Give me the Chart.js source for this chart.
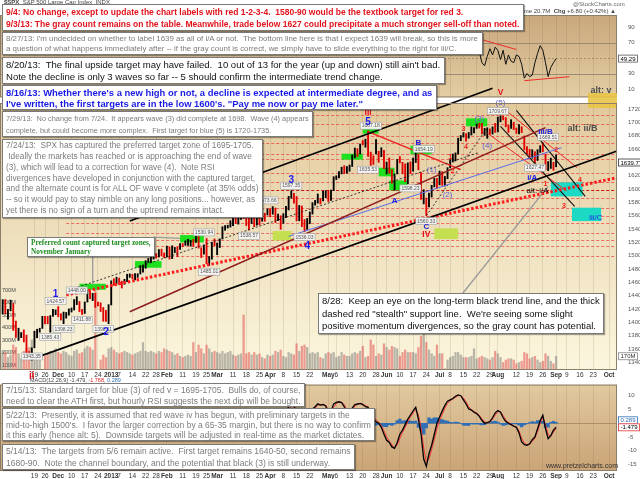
<!DOCTYPE html>
<html>
<head>
<meta charset="utf-8">
<script src="https://cdn.jsdelivr.net/npm/chart.js@4.4.1/dist/chart.umd.min.js"></script>
<style>
html,body{margin:0;padding:0;background:#fff}
#wrap{position:relative;width:640px;height:479px;overflow:hidden;font-family:"Liberation Sans",Arial,sans-serif}
canvas{position:absolute;left:0}
#rsi{top:0;z-index:1}
#macd{top:378px;z-index:1}
#price{top:80px;z-index:2}
.note{position:absolute;z-index:4;background:#fff;border:1px solid #7a7a7a;box-shadow:1px 1px 1px rgba(0,0,0,.35);box-sizing:border-box;white-space:pre;overflow:hidden;padding:1px 0 0 3px}
.note span{display:inline-block}
.note.red{color:#e3121b;font-weight:bold}
.note.gray{color:#7c7c7c}
.note.black{color:#111}
.note.blue{color:#1a1ae6;font-weight:bold}
.note.green{color:#1e8c1e;font-weight:bold;font-family:"Liberation Serif","Times New Roman",serif}
.txt{position:absolute;z-index:3;white-space:pre;font-size:6px;color:#444}
</style>
</head>
<body>
<div id="wrap">
<canvas id="rsi" width="640" height="104"></canvas>
<canvas id="price" width="640" height="305"></canvas>
<canvas id="macd" width="640" height="101"></canvas>
<div class="txt" style="left:4px;top:-1px"><b>$SPX</b>  S&amp;P 500 Large Cap Index  INDX</div>
<div class="txt" style="left:573px;top:1px;color:#666">@StockCharts.com</div>
<div class="txt" style="left:512px;top:8px">Volume 20.7M  <b>Chg</b> +6.80 (+0.42%) ▲</div>
<div class="txt" style="left:30px;top:377px;font-size:5.5px;z-index:5">MACD(12,26,9) -1.479, <span style="color:#e02020">-1.768</span>, <span style="color:#2f6fb6">0.289</span></div>
<div class="txt" style="left:546px;top:462px;font-size:7px;color:#333">www.pretzelcharts.com</div>
</div>

<script>
// trading days, Oct 31 2012 .. Oct 4 2013
const holidays = ['2012-11-22','2012-12-25','2013-01-01','2013-01-21','2013-02-18',
  '2013-03-29','2013-05-27','2013-07-04','2013-09-02'];
const dates = [];
for (let d = new Date(Date.UTC(2012, 9, 31)); d <= new Date(Date.UTC(2013, 9, 4)); d.setUTCDate(d.getUTCDate() + 1)) {
  const s = d.toISOString().slice(0, 10);
  const wd = d.getUTCDay();
  if (wd === 0 || wd === 6 || holidays.includes(s)) continue;
  dates.push(s);
}

// daily bars from Oct 31 2012 to Sep 3 2013
const highs = [
  1418.8,
  1434.3,1434.3,1419.8,1433.4,1428.4,1401.9,1391.4,1384.9,1388.8,1381.0,1356.4,1362.0,1386.9,1389.8,1391.3,1409.2,1409.2,1409.0,1410.3,1419.7,1418.9,
  1423.7,1413.1,1415.6,1415.0,1420.3,1421.6,1434.3,1438.6,1431.4,1419.5,1430.7,1448.0,1447.8,1443.7,1443.7,1430.7,1429.4,1422.4,1418.1,1426.7,
  1462.4,1465.5,1467.9,1466.5,1461.9,1464.7,1472.3,1472.8,1472.1,1473.3,1473.0,1485.2,1486.0,1492.6,1496.1,1502.3,1503.3,1503.2,1509.3,1509.9,1504.2,
  1514.4,1513.2,1514.9,1512.5,1512.9,1518.3,1518.3,1522.3,1524.7,1523.1,1524.7,1530.9,1530.9,1512.0,1515.6,1525.8,1498.9,1520.1,1525.3,
  1519.0,1525.3,1543.5,1545.3,1545.8,1552.5,1556.3,1556.8,1556.4,1563.3,1563.6,1557.7,1557.3,1561.6,1558.7,1557.7,1564.9,1563.9,1563.8,1570.3,
  1570.6,1573.7,1571.5,1562.6,1560.0,1563.1,1573.9,1589.1,1597.4,1593.4,1588.9,1575.4,1574.6,1554.4,1555.9,1565.6,1579.6,1583.0,1592.6,1585.8,1596.7,1597.6,
  1597.6,1598.6,1618.5,1619.8,1626.0,1632.8,1635.0,1633.7,1636.0,1651.1,1661.5,1660.5,1667.5,1672.8,1674.9,1687.2,1655.4,1649.8,1674.2,1656.6,1661.9,1658.0,
  1640.4,1646.5,1629.3,1622.7,1644.4,1648.7,1640.1,1637.7,1639.3,1640.8,1646.5,1654.2,1652.5,1624.6,1599.0,1586.5,1593.8,1605.6,1615.9,1615.9,
  1626.9,1626.1,1618.9,1632.1,1644.1,1652.5,1654.2,1676.3,1680.2,1684.5,1683.0,1684.8,1693.1,1692.1,1697.6,1698.8,1698.4,1690.9,1691.8,1690.2,1693.2,1698.4,
  1707.9,1709.7,1709.2,1707.1,1695.5,1704.0,1700.0,1691.5,1696.8,1693.4,1679.6,1663.6,1659.6,1658.9,1656.0,1659.0,1664.9,1669.5,1652.5,1641.2,1646.4,1640.1,
  1651.4
];
const lows = [
  1405.0,
  1412.9,1412.9,1405.0,1417.4,1388.1,1377.5,1373.0,1377.2,1370.8,1352.6,1348.0,1343.4,1362.0,1377.0,1385.4,1391.0,1397.7,1398.0,1385.4,1409.0,1411.6,
  1408.5,1403.6,1398.2,1406.4,1410.9,1415.6,1418.6,1426.8,1416.0,1411.9,1413.5,1430.5,1435.8,1432.8,1422.6,1424.7,1416.4,1401.8,1401.6,1398.1,
  1426.2,1455.5,1458.0,1456.6,1451.6,1457.2,1461.0,1467.6,1465.7,1463.8,1467.5,1472.6,1475.2,1481.2,1489.9,1489.5,1494.8,1496.3,1498.1,1500.1,1496.8,
  1498.1,1495.0,1495.7,1504.7,1498.5,1509.4,1513.6,1515.6,1515.6,1514.4,1514.1,1519.8,1511.4,1497.3,1502.4,1487.9,1485.0,1494.8,1514.5,
  1501.5,1512.3,1525.2,1538.1,1541.5,1542.9,1545.1,1548.2,1547.4,1554.5,1555.7,1545.3,1538.6,1548.3,1543.6,1545.8,1546.2,1551.7,1551.7,1561.1,
  1558.5,1562.2,1549.8,1552.5,1539.5,1548.6,1557.0,1568.6,1586.2,1579.0,1552.3,1552.4,1543.7,1536.0,1539.4,1548.2,1562.5,1575.8,1578.9,1577.6,1582.3,1587.0,
  1581.3,1582.8,1597.6,1614.2,1616.6,1622.7,1623.1,1623.7,1626.7,1633.8,1646.7,1648.6,1652.4,1666.3,1662.7,1648.9,1635.5,1636.9,1652.6,1640.1,1648.6,1630.7,
  1622.7,1623.6,1608.7,1598.2,1622.7,1639.3,1622.9,1610.9,1608.1,1623.0,1626.7,1639.8,1628.9,1584.3,1577.7,1560.3,1573.1,1588.0,1603.3,1601.1,
  1606.3,1605.5,1604.6,1615.4,1631.9,1640.5,1642.2,1652.6,1672.3,1677.9,1671.8,1676.3,1681.0,1684.1,1690.9,1691.4,1682.6,1680.4,1676.0,1681.9,1682.4,1684.9,
  1685.7,1700.7,1703.6,1693.3,1684.9,1690.9,1689.1,1683.4,1682.6,1684.6,1658.6,1652.6,1646.1,1646.1,1639.4,1642.8,1654.8,1656.0,1629.0,1627.5,1630.9,1628.1,
  1633.4
];
const closes = [
  1412.2,
  1427.6,1414.2,1417.3,1428.4,1394.5,1377.5,1379.9,1380.0,1374.5,1355.5,1353.3,1359.9,1386.9,1387.8,1391.0,1409.2,1406.3,1398.9,1409.9,1416.0,1416.2,
  1409.5,1407.1,1409.3,1413.9,1418.1,1418.6,1427.8,1428.5,1419.5,1413.6,1430.4,1446.8,1435.8,1443.7,1430.2,1426.7,1419.8,1418.1,1402.4,1426.2,
  1462.4,1459.4,1466.5,1461.9,1457.2,1461.0,1472.1,1472.1,1470.7,1472.3,1472.6,1480.9,1486.0,1492.6,1494.8,1494.8,1503.0,1500.2,1507.8,1502.0,1498.1,
  1513.2,1495.7,1511.3,1512.1,1509.4,1517.9,1517.0,1519.4,1520.3,1521.4,1519.8,1530.9,1512.0,1502.4,1515.6,1487.9,1496.9,1516.0,1514.7,
  1518.2,1525.2,1539.8,1541.5,1544.3,1551.2,1556.2,1552.5,1554.5,1563.2,1560.7,1552.1,1548.3,1558.7,1545.8,1556.9,1551.7,1563.8,1562.9,1569.2,
  1562.2,1570.3,1553.7,1560.0,1553.3,1563.1,1568.6,1587.7,1593.4,1588.9,1552.4,1574.6,1552.0,1541.6,1555.3,1562.5,1578.8,1578.8,1585.2,1582.2,1593.6,1597.6,
  1582.7,1597.6,1614.4,1617.5,1626.0,1632.7,1626.7,1633.7,1633.8,1650.3,1658.8,1650.5,1667.5,1666.3,1669.2,1655.4,1650.5,1649.6,1660.1,1648.4,1654.4,1630.7,
  1640.4,1631.4,1608.9,1622.6,1643.4,1642.8,1626.1,1612.5,1636.4,1626.7,1639.0,1651.8,1628.9,1588.2,1592.4,1573.1,1588.0,1603.3,1613.2,1606.3,
  1615.0,1614.1,1615.4,1631.9,1640.5,1652.3,1652.6,1675.0,1680.2,1682.5,1676.3,1680.9,1689.4,1692.1,1695.5,1692.4,1685.9,1690.3,1691.7,1685.3,1686.0,1685.7,
  1706.9,1709.7,1707.1,1697.4,1690.9,1697.5,1691.4,1689.5,1694.2,1685.4,1661.3,1655.8,1646.1,1652.4,1642.8,1657.0,1663.5,1656.8,1630.5,1635.0,1638.2,1633.0,
  1639.77
];
// volume, millions
const volumes = [
  190,
  210,200,160,180,260,240,190,150,210,230,240,300,180,170,150,60,170,190,210,200,230,
  200,190,210,200,180,170,210,220,190,200,230,250,240,220,700,50,140,180,160,230,
  240,220,200,190,200,210,200,190,180,190,200,210,280,210,200,210,200,190,210,200,230,
  220,210,200,180,190,170,160,170,180,170,280,200,260,230,190,260,230,200,210,
  200,190,210,190,200,210,180,170,180,190,500,190,200,180,200,180,190,160,150,180,
  170,180,210,200,220,170,160,200,190,180,270,210,250,260,240,190,200,190,200,160,150,190,
  200,190,200,160,170,200,180,170,170,190,200,190,210,250,160,170,300,260,170,190,180,270,
  240,220,250,240,230,170,200,220,200,200,200,190,240,330,470,280,220,190,170,260,
  190,190,70,140,160,170,200,200,180,160,160,160,170,230,150,160,170,160,150,140,160,210,
  190,160,120,140,150,150,140,110,120,130,200,190,150,160,170,140,120,130,190,170,130,110,
  170
];

// RSI(14) from Jul 1 2013
const rsiStart = '2013-07-01';
const rsiValues = [
  62,60,61,66,68,70,70,75,76,77,72,74,76,77,78,
  58,44,40,52,62,54,64,
  60,48,60,42,54,46,44,54,52,42,24,30,26,28,44,56,66,60,44,26,38,44,
  49.29
];

// MACD(12,26,9) from Apr 8 2013
const macdStart = '2013-04-08';
const macdLine = [
  3.0,4.0,6.0,7.2,6.5,2.0,3.8,1.5,0.0,1.5,3.0,5.2,6.0,7.1,6.6,6.8,6.3,
  3.8,4.5,7.0,7.6,7.8,7.5,6.0,3.5,4.0,5.5,6.8,7.0,7.2,6.8,6.0,5.8,3.0,1.5,0.5,0.0,-1.5,-4.0,
  -6.2,-7.0,-8.6,-9.1,-7.0,-4.0,-2.5,-0.5,1.5,3.0,4.5,5.8,1.5,-4.0,-13.0,-15.7,-11.0,-8.0,-4.0,0.0,
  2.3,4.5,6.5,8.0,8.5,9.0,9.8,10.3,10.0,8.5,7.0,5.2,4.8,4.0,3.5,2.5,1.0,0.0,0.2,0.6,2.0,3.8,
  4.6,4.0,2.0,0.6,0.0,-0.5,-1.1,-1.5,-3.5,-6.8,-7.8,-8.0,-7.5,-6.0,-5.0,-2.0,1.0,2.9,-2.0,-5.6,-4.5,-2.5,
  -1.479
];
const macdSignal = [
  3.5,3.6,4.8,6.3,6.8,4.0,3.2,2.3,0.8,0.9,2.2,4.0,5.5,6.5,6.8,6.7,6.5,
  5.0,4.3,5.8,7.2,7.6,7.6,6.8,4.8,4.0,4.8,6.2,6.8,7.1,7.0,6.4,6.0,4.2,2.5,1.2,0.4,-0.8,-2.8,
  -5.0,-6.5,-7.8,-8.8,-8.0,-5.5,-3.3,-1.5,0.5,2.2,3.8,5.0,3.0,-1.5,-9.0,-14.0,-13.0,-9.5,-6.0,-2.0,
  1.0,3.2,5.5,7.2,8.2,8.8,9.4,10.0,10.1,9.2,7.8,6.0,5.0,4.3,3.7,2.9,1.6,0.5,0.1,0.4,1.4,3.0,
  4.2,4.3,2.8,1.2,0.3,-0.3,-0.9,-1.3,-2.8,-5.5,-7.2,-7.8,-7.7,-6.6,-5.4,-3.0,0.0,2.2,-0.5,-4.2,-4.8,-3.2,
  -1.768
];
const macdHist = [
  -0.5,0.4,1.2,0.9,-0.3,-2.0,0.6,-0.8,-0.8,0.6,0.8,1.2,0.5,0.6,-0.2,0.1,-0.2,
  -1.2,0.2,1.2,0.4,0.2,-0.1,-0.8,-1.3,0.0,0.7,0.6,0.2,0.1,-0.2,-0.4,-0.2,-1.2,-1.0,-0.7,-0.4,-0.7,-1.2,
  -1.2,-0.5,-0.8,-0.3,1.0,1.5,0.8,1.0,1.0,0.8,0.7,0.8,-1.5,-2.5,-4.0,-1.7,2.0,1.5,2.0,2.0,
  1.3,1.3,1.0,0.8,0.3,0.2,0.4,0.3,-0.1,-0.7,-0.8,-0.8,-0.2,-0.3,-0.2,-0.4,-0.6,-0.5,0.1,0.2,0.6,0.8,
  0.4,-0.3,-0.8,-0.6,-0.3,-0.2,-0.2,-0.2,-0.7,-1.3,-0.6,-0.2,0.2,0.6,0.4,1.0,1.0,0.7,-1.5,-1.4,0.3,0.7,
  0.289
];

const priceTicks = [1340,1360,1380,1400,1420,1440,1460,1480,1500,1520,1540,1560,1580,1600,1620,1640,1660,1680,1700,1720];
const volTicks = [100,200,300,400,500,600,700];
const rsiTicks = [10,30,50,70,90];
const macdTicks = [10,5,-5,-10,-15];

const tickLabels = [
  ['2012-11-19','19'],['2012-11-26','26'],['2012-12-03','Dec'],['2012-12-10','10'],['2012-12-17','17'],['2012-12-24','24'],
  ['2013-01-02','2013'],['2013-01-07','7'],['2013-01-14','14'],['2013-01-22','22'],['2013-01-28','28'],
  ['2013-02-01','Feb'],['2013-02-11','11'],['2013-02-19','19'],['2013-02-25','25'],
  ['2013-03-01','Mar'],['2013-03-11','11'],['2013-03-18','18'],['2013-03-25','25'],
  ['2013-04-01','Apr'],['2013-04-08','8'],['2013-04-15','15'],['2013-04-22','22'],
  ['2013-05-01','May'],['2013-05-06','6'],['2013-05-13','13'],['2013-05-20','20'],['2013-05-28','28'],
  ['2013-06-03','Jun'],['2013-06-10','10'],['2013-06-17','17'],['2013-06-24','24'],
  ['2013-07-01','Jul'],['2013-07-08','8'],['2013-07-15','15'],['2013-07-22','22'],['2013-07-29','29'],
  ['2013-08-01','Aug'],['2013-08-12','12'],['2013-08-19','19'],['2013-08-26','26'],
  ['2013-09-03','Sep'],['2013-09-09','9'],['2013-09-16','16'],['2013-09-23','23'],
  ['2013-10-01','Oct']
];
const monthNames = ['Dec','2013','Feb','Mar','Apr','May','Jun','Jul','Aug','Sep','Oct'];

// chart annotations, in date / price terms
const fibStart = '2012-12-06';
const fibLevels = [1711,1698,1679,1669,1653,1645,1624,1610,1599,1587,1572,1559,1549,1534,1523,1514,1500];
const zones = [
  ['2012-12-13','2012-12-28',1449,1458,'green'],
  ['2013-01-15','2013-01-30',1482,1492,'green'],
  ['2013-02-08','2013-02-22',1520,1531,'green'],
  ['2013-04-02','2013-04-11',1523,1537,'lime'],
  ['2013-05-08','2013-05-20',1644,1653,'green'],
  ['2013-05-20','2013-05-29',1683,1691,'green'],
  ['2013-05-29','2013-06-06',1619,1632,'green'],
  ['2013-06-04','2013-06-13',1598,1613,'green'],
  ['2013-06-14','2013-06-26',1652,1665,'green'],
  ['2013-06-27','2013-07-11',1525,1541,'lime'],
  ['2013-07-16','2013-07-26',1694,1706,'green'],
  ['2013-08-29','2013-09-17',1589,1610,'cyan'],
  ['2013-09-11','2013-09-26',1552,1572,'cyan'],
  ['2013-09-19','2013-10-04',1721.5,1744,'yellow']
];
const trendLines = [
  ['2013-01-11',1552,'2013-07-30',1751,'black'],
  ['2012-11-16',1345,'2013-10-04',1657,'black'],
  ['2012-12-06',1447,'2013-07-23',1655,'blackDash'],
  ['2013-01-11',1416,'2013-08-27',1692,'maroon'],
  ['2013-04-10',1529,'2013-09-05',1662,'blue'],
  ['2012-12-06',1441,'2013-10-04',1617,'redDot'],
  ['2013-05-22',1686,'2013-07-12',1629,'red'],
  ['2013-06-24',1560,'2013-07-26',1692,'blackDash'],
  ['2013-08-12',1718,'2013-09-18',1589,'blackMid'],
  ['2013-08-02',1694,'2013-09-12',1574,'blackMid'],
  ['2013-08-05',1721,'2013-09-13',1632,'redThin'],
  ['2013-07-26',1684,'2013-09-09',1597,'redThin'],
  ['2013-07-12',1440,'2013-08-28',1604,'gray'],
  ['2012-12-20',1499,'2012-12-20',1457,'gray'],
  ['2013-01-25',1528,'2013-02-08',1526,'gray']
];
const rsiLines = [
  ['2013-07-24',73.7,'2013-08-12',61,'redThin'],
  ['2013-08-15',20.8,'2013-09-10',25.9,'redThin']
];
const waveLabels = [
  ['1','2012-11-30',1443,'blueBig'],
  ['2','2012-12-28',1385,'blueBig'],
  ['3','2013-04-11',1613,'blueBig'],
  ['4','2013-04-19',1514,'blueBig'],
  ['5','2013-05-22',1700,'blueBig'],
  ['III','2013-05-22',1714,'red'],
  ['B','2013-06-19',1669,'blue'],
  ['A','2013-06-06',1582,'blue'],
  ['C','2013-06-24',1543,'blue'],
  ['IV','2013-06-24',1531,'red'],
  ['(1)','2013-06-26',1629,'paren'],
  ['(2)','2013-07-05',1592,'paren'],
  ['(3)','2013-07-23',1705,'paren'],
  ['(4)','2013-07-26',1665,'paren'],
  ['(5)','2013-08-02',1729,'paren'],
  ['V','2013-08-02',1744,'red'],
  ['1','2013-07-08',1648,'redSmall'],
  ['2','2013-07-09',1627,'redSmall'],
  ['3','2013-07-15',1690,'redSmall'],
  ['4','2013-07-16',1663,'redSmall'],
  ['iii/B','2013-08-27',1686,'blue'],
  ['i/A','2013-08-20',1617,'blue'],
  ['alt: i/A','2013-08-22',1598,'altSmall'],
  ['1','2013-08-27',1608,'redSmall'],
  ['2','2013-09-03',1659,'redSmall'],
  ['3','2013-09-06',1575,'redSmall'],
  ['4','2013-09-16',1613,'redSmall'],
  ['alt: ii/B','2013-09-17',1690,'alt'],
  ['alt: v','2013-09-26',1748,'alt'],
  ['iii/C','2013-09-24',1557,'blueThin'],
  ['ii','2012-11-16',1319,'redBig']
];
const priceTags = [
  ['1343.35','2012-11-16',1349],
  ['1385.43','2012-11-28',1378],
  ['1398.23','2012-12-05',1390],
  ['1424.57','2012-11-30',1432],
  ['1411.88','2012-12-14',1404],
  ['1448.00','2012-12-12',1448],
  ['1398.11','2012-12-27',1390],
  ['1485.01','2013-02-26',1476],
  ['1530.94','2013-02-22',1535],
  ['1538.57','2013-03-19',1530],
  ['1573.66','2013-03-28',1583],
  ['1597.35','2013-04-11',1605],
  ['1536.03','2013-04-18',1528],
  ['1687.18','2013-05-23',1695],
  ['1635.53','2013-05-22',1629],
  ['1598.23','2013-06-14',1601],
  ['1654.19','2013-06-21',1660],
  ['1560.33','2013-06-24',1552],
  ['1709.67','2013-08-01',1717],
  ['1627.47','2013-08-21',1632],
  ['1669.51','2013-08-28',1678]
];

// ---- styles ----
const lineStyles = {
  black:    {color:'#000', width:1.6},
  blackMid: {color:'#111', width:1.1},
  blackDash:{color:'#222', width:0.9, dash:[2,2]},
  maroon:   {color:'#8e1d1d', width:1.5},
  blue:     {color:'#5b6ce6', width:1},
  redDot:   {color:'#ff1c1c', width:3, dash:[2.5,2]},
  red:      {color:'#ee1f1f', width:1.3},
  redThin:  {color:'#ee2b2b', width:1},
  gray:     {color:'#9a9a9a', width:1.3}
};
const zoneColors = {green:'#1fe01f', lime:'#c4e050', cyan:'#1cd9c4', yellow:'rgba(232,196,70,0.9)'};
const labelStyles = {
  blueBig: ['bold 10px "Liberation Sans"','#1a1aee'],
  blue:    ['bold 8px "Liberation Sans"','#2020e0'],
  blueThin:['8px "Liberation Sans"','#2a2ae8'],
  red:     ['bold 8.5px "Liberation Sans"','#e8101a'],
  redBig:  ['bold 10px "Liberation Sans"','#e8101a'],
  redSmall:['bold 7px "Liberation Sans"','#f0201a'],
  paren:   ['8px "Liberation Sans"','#6464d2'],
  alt:     ['bold 9px "Liberation Sans"','#4d4d4d'],
  altSmall:['8px "Liberation Sans"','#111']
};

Chart.defaults.font.family = '"Liberation Sans", Arial, sans-serif';

const at = d => dates.indexOf(d);
function padFrom(start, values) {
  const out = new Array(at(start)).fill(null);
  return out.concat(values);
}
const tickText = v => { const t = tickLabels.find(t => at(t[0]) === v); return t ? t[1] : ''; };

function xScale(showLabels, h) {
  return {
    type:'category', offset:false,
    grid:{offset:false, color:'rgba(110,85,50,0.14)', drawTicks:false},
    border:{display:false},
    afterBuildTicks: s => { s.ticks = tickLabels.map(t => ({value: at(t[0])})); },
    afterFit: s => { s.height = h; },
    ticks:{
      display:showLabels, autoSkip:false, maxRotation:0, minRotation:0, padding:1, color:'#333',
      font: c => ({size:6.5, weight: monthNames.includes((tickLabels[c.index] || [])[1]) ? 'bold' : 'normal'}),
      callback: v => tickText(v)
    }
  };
}
function rightAxis(min, max, ticks) {
  return {
    position:'right', min:min, max:max,
    afterBuildTicks: s => { s.ticks = ticks.map(v => ({value:v})); },
    afterFit: s => { s.width = 23; },
    grid:{display:false}, border:{display:false},
    ticks:{font:{size:6}, color:'#555', padding:3, callback: v => String(v)}
  };
}
function fillPanel(c, top, bottom) {
  const {ctx, chartArea:a} = c;
  const g = ctx.createLinearGradient(0, a.top, 0, a.bottom);
  g.addColorStop(0, top); g.addColorStop(1, bottom);
  ctx.save(); ctx.fillStyle = g; ctx.fillRect(a.left, a.top, a.right - a.left, a.bottom - a.top); ctx.restore();
}
function framePanel(c) {
  const {ctx, chartArea:a} = c;
  ctx.save(); ctx.strokeStyle = '#8c7f6a'; ctx.lineWidth = 1;
  ctx.strokeRect(a.left + 0.5, a.top + 0.5, a.right - a.left - 1, a.bottom - a.top - 1); ctx.restore();
}
function axisTag(c, yy, text, color, border) {
  const {ctx, chartArea:a} = c;
  ctx.save();
  ctx.font = '6px "Liberation Sans"';
  const w = ctx.measureText(text).width + 4;
  ctx.fillStyle = '#fff'; ctx.strokeStyle = border || '#555'; ctx.lineWidth = 0.8;
  ctx.fillRect(a.right + 1, yy - 4, w, 8); ctx.strokeRect(a.right + 1.5, yy - 3.5, w, 7);
  ctx.fillStyle = color || '#000'; ctx.textBaseline = 'middle'; ctx.textAlign = 'left';
  ctx.fillText(text, a.right + 3.5, yy + 0.5);
  ctx.restore();
}
function lineDataset(l, yAxisID) {
  const st = lineStyles[l[4]];
  return {type:'line', data:[{x:l[0], y:l[1]}, {x:l[2], y:l[3]}], borderColor:st.color, borderWidth:st.width,
    borderDash:st.dash || [], pointRadius:0, clip:false, order:0, yAxisID:yAxisID};
}

// ---- RSI panel ----
const rsiPanel = {
  id:'rsiPanel',
  beforeDraw: c => fillPanel(c, '#c9a77c', '#e4cea4'),
  beforeDatasetsDraw(c) {
    const {ctx, chartArea:a, scales:{y}} = c;
    ctx.save();
    [70, 30].forEach(v => {
      const yy = Math.round(y.getPixelForValue(v)) + 0.5;
      ctx.strokeStyle = '#9b8b72'; ctx.lineWidth = 1;
      ctx.beginPath(); ctx.moveTo(a.left, yy); ctx.lineTo(a.right, yy); ctx.stroke();
    });
    const y50 = Math.round(y.getPixelForValue(50)) + 0.5;
    ctx.setLineDash([2, 2]); ctx.strokeStyle = 'rgba(120,100,70,0.5)';
    ctx.beginPath(); ctx.moveTo(a.left, y50); ctx.lineTo(a.right, y50); ctx.stroke();
    ctx.restore();
  },
  afterDraw(c) {
    framePanel(c);
    axisTag(c, c.scales.y.getPixelForValue(rsiValues[rsiValues.length - 1]), rsiValues[rsiValues.length - 1].toFixed(2));
  }
};
new Chart(document.getElementById('rsi'), {
  type:'line',
  data:{labels:dates, datasets:[
    {data:padFrom(rsiStart, rsiValues), borderColor:'#111', borderWidth:1, pointRadius:0, tension:0, order:1},
    ...rsiLines.map(l => lineDataset(l, 'y'))
  ]},
  options:{
    responsive:false, animation:false, events:[],
    layout:{padding:{top:15, bottom:0, left:0, right:0}},
    plugins:{legend:{display:false}, tooltip:{enabled:false}},
    scales:{x:xScale(false, 0), y:rightAxis(-0.75, 105.5, rsiTicks)}
  },
  plugins:[rsiPanel]
});

// ---- price panel ----
const barColors = closes.map((v, i) => (i > 0 && v < closes[i - 1]) ? '#e00000' : '#000');
const volColors = closes.map((v, i) => (i > 0 && v < closes[i - 1]) ? 'rgba(225,80,80,0.55)' : 'rgba(105,105,105,0.45)');
const pricePanel = {
  id:'pricePanel',
  beforeDraw: c => fillPanel(c, '#e2c99c', '#fbf6de'),
  beforeDatasetsDraw(c) {
    const {ctx, chartArea:a, scales:{x, y}} = c;
    ctx.save();
    ctx.beginPath(); ctx.rect(a.left, a.top, a.right - a.left, a.bottom - a.top); ctx.clip();
    ctx.setLineDash([3, 2]); ctx.lineWidth = 1;
    const x0 = x.getPixelForValue(at(fibStart));
    fibLevels.forEach(p => {
      const yy = Math.round(y.getPixelForValue(p)) + 0.5;
      ctx.strokeStyle = (p === 1599) ? 'rgba(200,0,0,0.9)' : 'rgba(235,60,60,0.7)';
      ctx.beginPath(); ctx.moveTo(x0, yy); ctx.lineTo(a.right, yy); ctx.stroke();
    });
    ctx.restore();
    ctx.save();
    zones.forEach(z => {
      const x1 = x.getPixelForValue(at(z[0])), x2 = x.getPixelForValue(at(z[1]));
      const y1 = y.getPixelForValue(z[3]), y2 = y.getPixelForValue(z[2]);
      ctx.fillStyle = zoneColors[z[4]];
      ctx.fillRect(x1, y1, x2 - x1, y2 - y1);
    });
    ctx.restore();
  },
  afterDatasetsDraw(c) {
    const {ctx, scales:{x, y}} = c;
    ctx.save();
    ctx.textAlign = 'center'; ctx.textBaseline = 'middle';
    ctx.font = '5px "Liberation Sans"';
    priceTags.forEach(t => {
      const px = x.getPixelForValue(at(t[1])), py = y.getPixelForValue(t[2]);
      const w = ctx.measureText(t[0]).width + 3;
      ctx.fillStyle = 'rgba(246,246,246,0.95)'; ctx.strokeStyle = '#a0a0a0'; ctx.lineWidth = 0.6;
      ctx.fillRect(px - w / 2, py - 3.5, w, 7); ctx.strokeRect(px - w / 2, py - 3.5, w, 7);
      ctx.fillStyle = '#555'; ctx.fillText(t[0], px, py + 0.3);
    });
    waveLabels.forEach(l => {
      const st = labelStyles[l[3]];
      ctx.font = st[0]; ctx.fillStyle = st[1];
      ctx.fillText(l[0], x.getPixelForValue(at(l[1])), y.getPixelForValue(l[2]));
    });
    ctx.restore();
  },
  afterDraw(c) {
    framePanel(c);
    const y = c.scales.y, v = c.scales.vol;
    axisTag(c, v.getPixelForValue(volumes[volumes.length - 1]), volumes[volumes.length - 1] + 'M', '#333', '#888');
    axisTag(c, y.getPixelForValue(closes[closes.length - 1]), closes[closes.length - 1].toFixed(2), '#000', '#333');
  }
};
new Chart(document.getElementById('price'), {
  type:'bar',
  data:{labels:dates, datasets:[
    ...trendLines.map(l => lineDataset(l, 'y')),
    {data:lows.map((l, i) => [l, highs[i]]), backgroundColor:barColors, borderWidth:0, barThickness:1.2, grouped:false, order:1, yAxisID:'y'},
    {data:volumes, backgroundColor:volColors, borderWidth:0, barThickness:1.6, grouped:false, order:5, yAxisID:'vol'}
  ]},
  options:{
    responsive:false, animation:false, events:[],
    layout:{padding:{top:23, bottom:6, left:0, right:0}},
    plugins:{legend:{display:false}, tooltip:{enabled:false}},
    scales:{
      x:xScale(true, 9),
      y:rightAxis(1328.7, 1729, priceTicks),
      vol:{
        position:'left', min:60, max:2196,
        afterBuildTicks: s => { s.ticks = volTicks.map(v => ({value:v})); },
        afterFit: s => { s.width = 0; },
        grid:{display:false}, border:{display:false},
        ticks:{mirror:true, padding:2, font:{size:5.5}, color:'#444', callback: v => v + 'M'}
      }
    }
  },
  plugins:[pricePanel]
});

// ---- MACD panel ----
const macdPanel = {
  id:'macdPanel',
  beforeDraw: c => fillPanel(c, '#e2c9a0', '#caa476'),
  beforeDatasetsDraw(c) {
    const {ctx, chartArea:a, scales:{y}} = c;
    const yy = Math.round(y.getPixelForValue(0)) + 0.5;
    ctx.save(); ctx.strokeStyle = 'rgba(120,95,60,0.45)'; ctx.lineWidth = 1;
    ctx.beginPath(); ctx.moveTo(a.left, yy); ctx.lineTo(a.right, yy); ctx.stroke(); ctx.restore();
  },
  afterDraw(c) {
    framePanel(c);
    const y = c.scales.y;
    const yl = y.getPixelForValue(macdLine[macdLine.length - 1]);
    const yh = Math.min(y.getPixelForValue(macdHist[macdHist.length - 1]), yl - 7);
    axisTag(c, yh, macdHist[macdHist.length - 1].toFixed(3), '#2f6fb6', '#2f6fb6');
    axisTag(c, yl, macdLine[macdLine.length - 1].toFixed(3), '#000', '#e03030');
  }
};
new Chart(document.getElementById('macd'), {
  type:'bar',
  data:{labels:dates, datasets:[
    {type:'line', data:padFrom(macdStart, macdLine), borderColor:'#000', borderWidth:1.3, pointRadius:0, tension:0, order:0},
    {type:'line', data:padFrom(macdStart, macdSignal), borderColor:'#f03030', borderWidth:1, pointRadius:0, tension:0, order:1},
    {data:padFrom(macdStart, macdHist), backgroundColor:'#2f6fb6', borderWidth:0, barPercentage:1, categoryPercentage:1, order:2}
  ]},
  options:{
    responsive:false, animation:false, events:[],
    layout:{padding:0},
    plugins:{legend:{display:false}, tooltip:{enabled:false}},
    scales:{x:xScale(true, 8), y:rightAxis(-17.36, 14.05, macdTicks)}
  },
  plugins:[macdPanel]
});

// ---- text notes ----
const notes = [
  {x:2, y:4, w:522, h:27, cls:'red', lines:[
    '9/4: No change, except to update the chart labels with red 1-2-3-4.  1580-90 would be the textbook target for red 3.',
    '9/3/13: The gray count remains on the table. Meanwhile, trade below 1627 could precipitate a much stronger sell-off than noted.']},
  {x:2, y:32, w:481, h:23, cls:'gray', lines:[
    "8/27/13: I'm undecided on whether to label 1639 as all of i/A or not.  The bottom line here is that I expect 1639 will break, so this is more",
    'a question of what happens immediately after -- if the gray count is correct, we simply have to slide everything to the right for iii/C.']},
  {x:2, y:57, w:443, h:27, cls:'black', lines:[
    "8/20/13:  The final upside target may have failed.  10 out of 13 for the year (up and down) still ain't bad.",
    'Note the decline is only 3 waves so far -- 5 should confirm the intermediate trend change.']},
  {x:2, y:85, w:435, h:25, cls:'blue', lines:[
    "8/16/13: Whether there's a new high or not, a decline is expected at intermediate degree, and as",
    "I've written, the first targets are in the low 1600's. \"Pay me now or pay me later.\""]},
  {x:2, y:111, w:311, h:26, cls:'gray', lines:[
    '7/29/13:  No change from 7/24.  It appears wave (3) did complete at 1698.  Wave (4) appears',
    'complete, but could become more complex.  First target for blue (5) is 1720-1735.']},
  {x:2, y:139, w:261, h:79, cls:'gray', lines:[
    '7/24/13:  SPX has captured the preferred target zone of 1695-1705.',
    ' Ideally the markets has reached or is approaching the end of wave',
    '(3), which will lead to a correction for wave (4).  Note RSI',
    'divergences have developed in conjunction with the captured target,',
    'and the alternate count is for ALL OF wave v complete (at 35% odds)',
    '-- so it would pay to stay nimble on any long positions... however, as',
    'yet there is no sign of a turn and the uptrend remains intact.']},
  {x:27, y:237, w:128, h:20, cls:'green', lines:[
    'Preferred count captured target zones,',
    'November January']},
  {x:318, y:293, w:286, h:41, cls:'black', lines:[
    '8/28:  Keep an eye on the long-term black trend line, and the thick',
    'dashed red "stealth" support line.  We\'re seeing some slight',
    'positive momentum divergences, so the gray count has potential.']},
  {x:2, y:383, w:303, h:24, cls:'gray', lines:[
    '7/15/13: Standard target for blue (3) of red v = 1695-1705.  Bulls do, of course,',
    'need to clear the ATH first, but hourly RSI suggests the next dip will be bought.']},
  {x:2, y:408, w:373, h:33, cls:'gray', lines:[
    '5/22/13:  Presently, it is assumed that red wave iv has begun, with preliminary targets in the',
    "mid-to-high 1500's.  I favor the larger correction by a 65-35 margin, but there is no way to confirm",
    'it this early (hence alt: 5).  Downside targets will be adjusted in real-time as the market dictates.']},
  {x:2, y:444, w:353, h:26, cls:'gray', lines:[
    '5/14/13:  The targets from 5/6 remain active.  First target remains 1640-50, second remains',
    '1680-90.  Note the channel boundary, and the potential that black (3) is still underway.']}
];
const wrap = document.getElementById('wrap');
notes.forEach(n => {
  const el = document.createElement('div');
  el.className = 'note ' + n.cls;
  Object.assign(el.style, {left:n.x + 'px', top:n.y + 'px', width:n.w + 'px', height:n.h + 'px', fontSize:'10px'});
  const lh = (n.h - 3) / n.lines.length;
  n.lines.forEach(t => {
    const row = document.createElement('div');
    row.style.height = lh + 'px'; row.style.lineHeight = lh + 'px';
    const s = document.createElement('span'); s.textContent = t;
    row.appendChild(s); el.appendChild(row);
  });
  wrap.appendChild(el);
  const widest = Math.max(...[...el.querySelectorAll('span')].map(s => s.getBoundingClientRect().width));
  el.style.fontSize = Math.min(10 * (n.w - 8) / widest, lh * 0.95) + 'px';
});
</script>
</body>
</html>
